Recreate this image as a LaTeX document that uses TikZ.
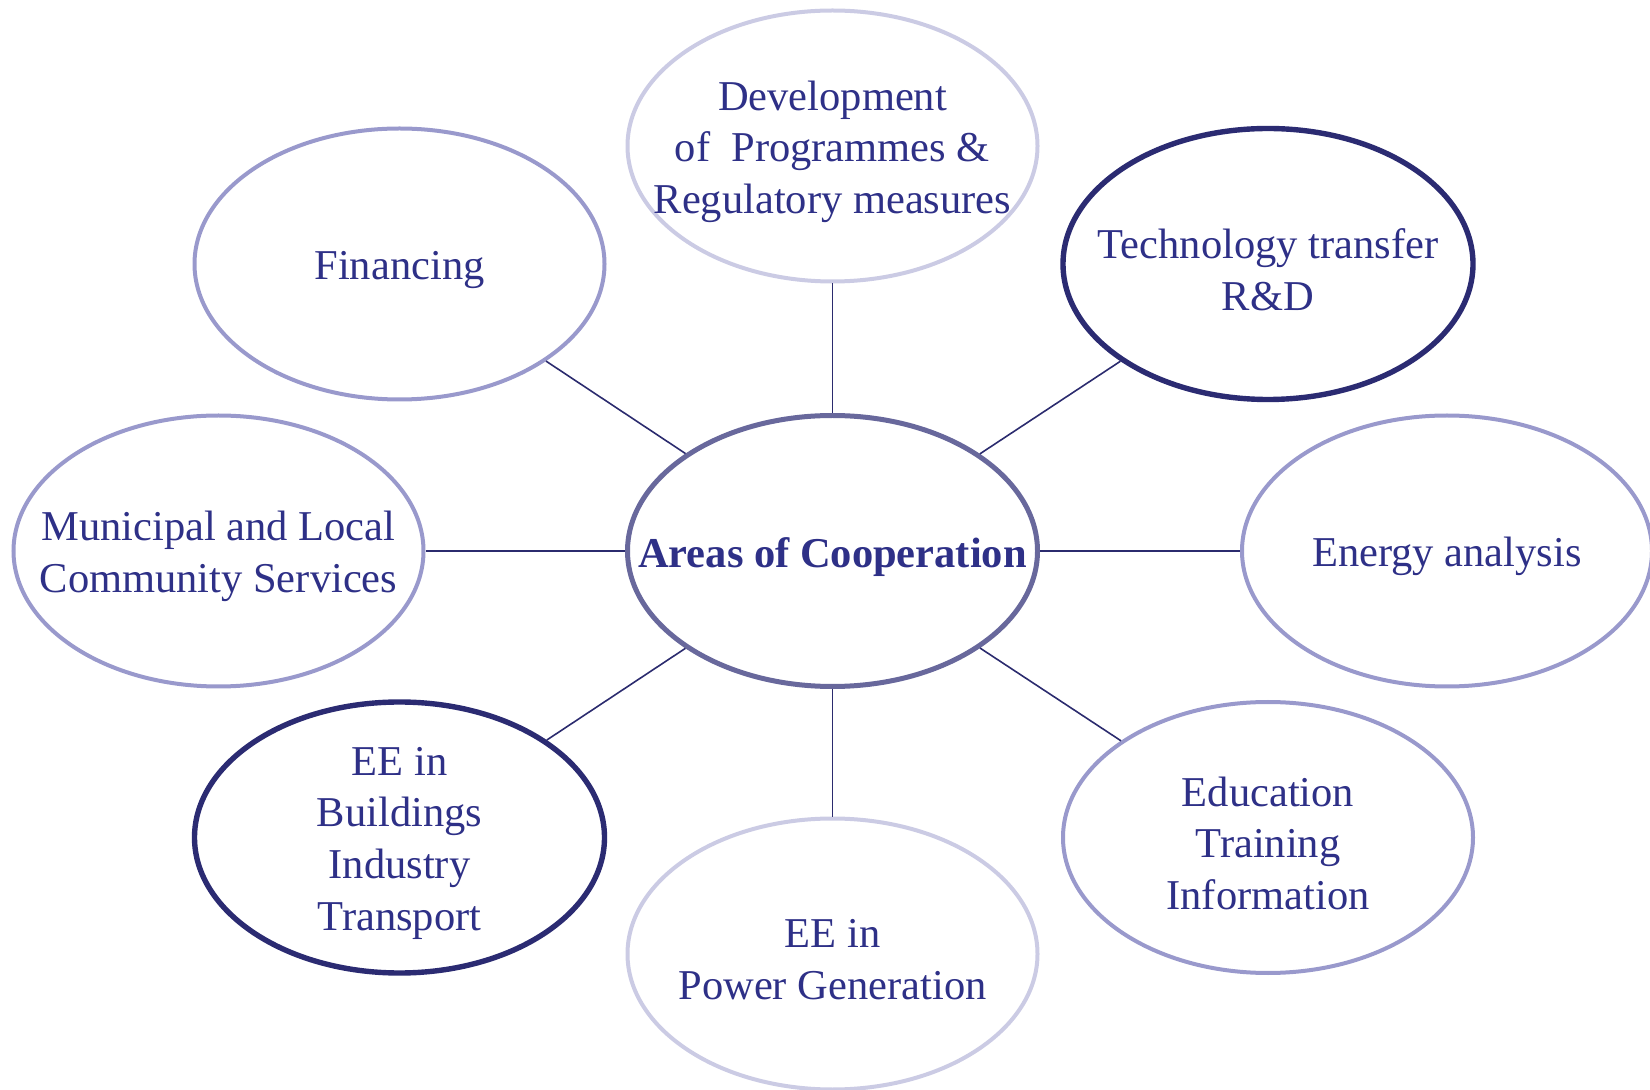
\documentclass[tikz,border=0pt]{standalone}
\usepackage{fontspec}
\setmainfont{Liberation Serif}
\usetikzlibrary{shapes.geometric}
\definecolor{lightlav}{HTML}{CBCBE4}
\definecolor{medlav}{HTML}{9999CC}
\definecolor{darknavy}{HTML}{2B2B72}
\definecolor{centrecol}{HTML}{68689C}
\definecolor{textcol}{HTML}{2E3087}
\definecolor{linecol}{HTML}{2B2B6E}
\tikzset{
  bubble/.style={ellipse, minimum width=205pt, minimum height=135.5pt, inner sep=0pt, fill=white},
  lightb/.style={bubble, draw=lightlav, line width=2pt},
  medb/.style={bubble, draw=medlav, line width=2pt},
  darkb/.style={bubble, draw=darknavy, line width=2.7pt},
  centreb/.style={bubble, draw=centrecol, line width=2.5pt},
  txt/.style={align=center, text=textcol, inner sep=0pt, yshift=-2.8pt, font=\fontsize{21.25pt}{25.8pt}\selectfont},
  conn/.style={draw=linecol, line width=0.8pt}
}
\begin{document}
\begin{tikzpicture}[x=0.5pt,y=-0.5pt]
\useasboundingbox (0,0) rectangle (1650,1090);
\node[centreb] (c) at (832.5,551) {};
\node[lightb] (dev) at (832.5,146) {};
\node[medb] (fin) at (399.5,264) {};
\node[darkb] (tech) at (1268,264) {};
\node[medb] (mun) at (218.5,551) {};
\node[medb] (ener) at (1447,551) {};
\node[darkb] (bld) at (399.5,837.5) {};
\node[lightb] (pow) at (832.5,954) {};
\node[medb] (edu) at (1268,837.5) {};

\node[txt, font=\fontsize{21.25pt}{25.8pt}\selectfont\bfseries] (ct) at (c) {Areas of Cooperation};
\node[txt] (devt) at (dev) {Development\\of\ \ Programmes \&\\Regulatory measures};
\node[txt] (fint) at (fin) {Financing};
\node[txt] (techt) at (tech) {Technology transfer\\R\&D};
\node[txt] (munt) at (mun) {Municipal and Local\\Community Services};
\node[txt] (enert) at (ener) {Energy analysis};
\node[txt] (bldt) at (bld) {EE in\\Buildings\\Industry\\Transport};
\node[txt] (powt) at (pow) {EE in\\Power Generation};
\node[txt] (edut) at (edu) {Education\\Training\\Information};

\foreach \n in {dev,fin,tech,mun,ener,bld,pow,edu}
  \draw[conn] (c) -- (\n);
\end{tikzpicture}
\end{document}
